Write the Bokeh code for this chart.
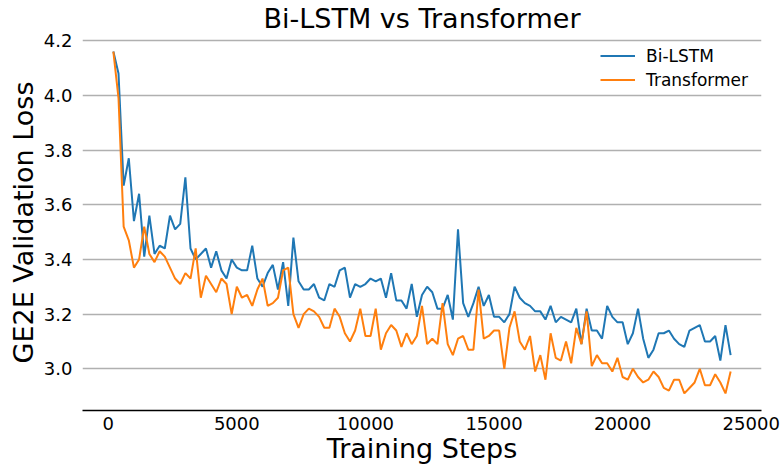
from bokeh.plotting import figure
from bokeh.models import (Range1d, Legend, LegendItem, ColumnDataSource,
                          FixedTicker, PrintfTickFormatter)
from bokeh.embed import file_html
from bokeh.resources import INLINE

# ---- data ----
steps = list(range(200, 24201, 200))

bilstm = [
    4.16, 4.08, 3.67, 3.77, 3.54, 3.64, 3.41, 3.56, 3.42, 3.45,
    3.44, 3.56, 3.51, 3.53, 3.70, 3.44, 3.40, 3.42, 3.44, 3.37,
    3.43, 3.36, 3.33, 3.40, 3.37, 3.36, 3.36, 3.45, 3.33, 3.30,
    3.35, 3.38, 3.29, 3.39, 3.23, 3.48, 3.32, 3.29, 3.29, 3.31,
    3.26, 3.25, 3.31, 3.30, 3.36, 3.37, 3.26, 3.31, 3.30, 3.31,
    3.33, 3.32, 3.33, 3.26, 3.35, 3.25, 3.25, 3.22, 3.31, 3.19,
    3.27, 3.30, 3.28, 3.22, 3.22, 3.27, 3.18, 3.51, 3.24, 3.19,
    3.24, 3.30, 3.23, 3.27, 3.19, 3.19, 3.17, 3.20, 3.30, 3.26,
    3.24, 3.23, 3.21, 3.21, 3.18, 3.23, 3.17, 3.19, 3.18, 3.17,
    3.22, 3.09, 3.22, 3.14, 3.14, 3.11, 3.23, 3.19, 3.17, 3.17,
    3.09, 3.13, 3.22, 3.11, 3.04, 3.07, 3.13, 3.13, 3.14, 3.11,
    3.09, 3.08, 3.14, 3.15, 3.16, 3.10, 3.10, 3.12, 3.03, 3.16,
    3.05,
]

transformer = [
    4.16, 3.99, 3.52, 3.47, 3.37, 3.40, 3.52, 3.42, 3.39, 3.43,
    3.41, 3.37, 3.33, 3.31, 3.35, 3.33, 3.44, 3.26, 3.34, 3.31,
    3.28, 3.33, 3.31, 3.20, 3.30, 3.26, 3.27, 3.23, 3.29, 3.33,
    3.23, 3.24, 3.26, 3.36, 3.37, 3.20, 3.15, 3.20, 3.22, 3.21,
    3.19, 3.15, 3.15, 3.22, 3.19, 3.13, 3.10, 3.14, 3.22, 3.12,
    3.12, 3.22, 3.07, 3.13, 3.16, 3.14, 3.08, 3.13, 3.09, 3.12,
    3.23, 3.09, 3.11, 3.09, 3.24, 3.09, 3.05, 3.11, 3.12, 3.07,
    3.07, 3.29, 3.11, 3.12, 3.14, 3.14, 3.00, 3.15, 3.21, 3.10,
    3.07, 3.12, 2.99, 3.05, 2.96, 3.13, 3.04, 3.03, 3.10, 3.02,
    3.15, 3.09, 3.21, 3.01, 3.05, 3.02, 3.02, 2.99, 3.04, 2.97,
    2.96, 3.00, 2.97, 2.95, 2.96, 2.99, 2.97, 2.93, 2.92, 2.96,
    2.96, 2.91, 2.93, 2.95, 3.00, 2.94, 2.94, 2.98, 2.95, 2.91,
    2.99,
]

x_ticks = [0, 5000, 10000, 15000, 20000, 25000]
y_ticks = [3.0, 3.2, 3.4, 3.6, 3.8, 4.0, 4.2]

title_text = "Bi-LSTM vs Transformer"
x_label = "Training Steps"
y_label = "GE2E Validation Loss"
series_names = ["Bi-LSTM", "Transformer"]
colors = ["#1f77b4", "#ff7f0e"]

FONT = "DejaVu Sans"

x0, x1 = -1000, 25400
y0, y1 = 2.8475, 4.2225

p = figure(width=782, height=471, output_backend="svg", toolbar_location=None,
           x_range=Range1d(x0, x1), y_range=Range1d(y0, y1),
           min_border_left=82, min_border_right=21,
           min_border_top=34, min_border_bottom=61)
p.outline_line_color = None
p.background_fill_color = "white"
p.border_fill_color = "white"

# title
p.title.text = title_text
p.title.align = "center"
p.title.text_font = FONT
p.title.text_font_size = "27px"
p.title.text_font_style = "normal"
p.title.text_color = "black"
p.title.standoff = 1

src = ColumnDataSource(dict(step=steps, bilstm=bilstm, transformer=transformer))
r1 = p.line("step", "bilstm", source=src, line_color=colors[0], line_width=2)
r2 = p.line("step", "transformer", source=src, line_color=colors[1], line_width=2)

# axes
p.xaxis.ticker = FixedTicker(ticks=x_ticks)
p.xaxis.formatter = PrintfTickFormatter(format="%d")
p.yaxis.ticker = FixedTicker(ticks=y_ticks)
p.yaxis.formatter = PrintfTickFormatter(format="%.1f")
for ax in (p.xaxis[0], p.yaxis[0]):
    ax.major_tick_line_color = None
    ax.minor_tick_line_color = None
    ax.major_tick_out = 0
    ax.major_tick_in = 0
    ax.major_label_text_font = FONT
    ax.major_label_text_font_size = "18px"
    ax.major_label_text_color = "black"
    ax.axis_label_text_font = FONT
    ax.axis_label_text_font_size = "27px"
    ax.axis_label_text_font_style = "normal"
    ax.axis_label_text_color = "black"
p.xaxis.axis_label = x_label
p.yaxis.axis_label = y_label
p.xaxis.major_label_standoff = 6
p.xaxis.axis_label_standoff = 0
p.yaxis.major_label_standoff = 10
p.yaxis.axis_label_standoff = 2
p.yaxis.axis_line_color = None
p.xaxis.axis_line_color = "black"
p.xaxis.axis_line_width = 1.3

p.xgrid.grid_line_color = None
p.ygrid.grid_line_color = "#b0b0b0"
p.ygrid.grid_line_width = 1.4

# legend
legend = Legend(items=[LegendItem(label=series_names[0], renderers=[r1]),
                       LegendItem(label=series_names[1], renderers=[r2])],
                location=(518, 320))
legend.border_line_color = None
legend.background_fill_alpha = 0
legend.label_text_font = FONT
legend.label_text_font_size = "17px"
legend.label_text_color = "black"
legend.glyph_width = 35
legend.glyph_height = 21
legend.label_height = 21
legend.spacing = 3
legend.label_standoff = 11
legend.margin = 0
legend.padding = 12
p.add_layout(legend)

open("out.html", "w").write(file_html(p, INLINE))
